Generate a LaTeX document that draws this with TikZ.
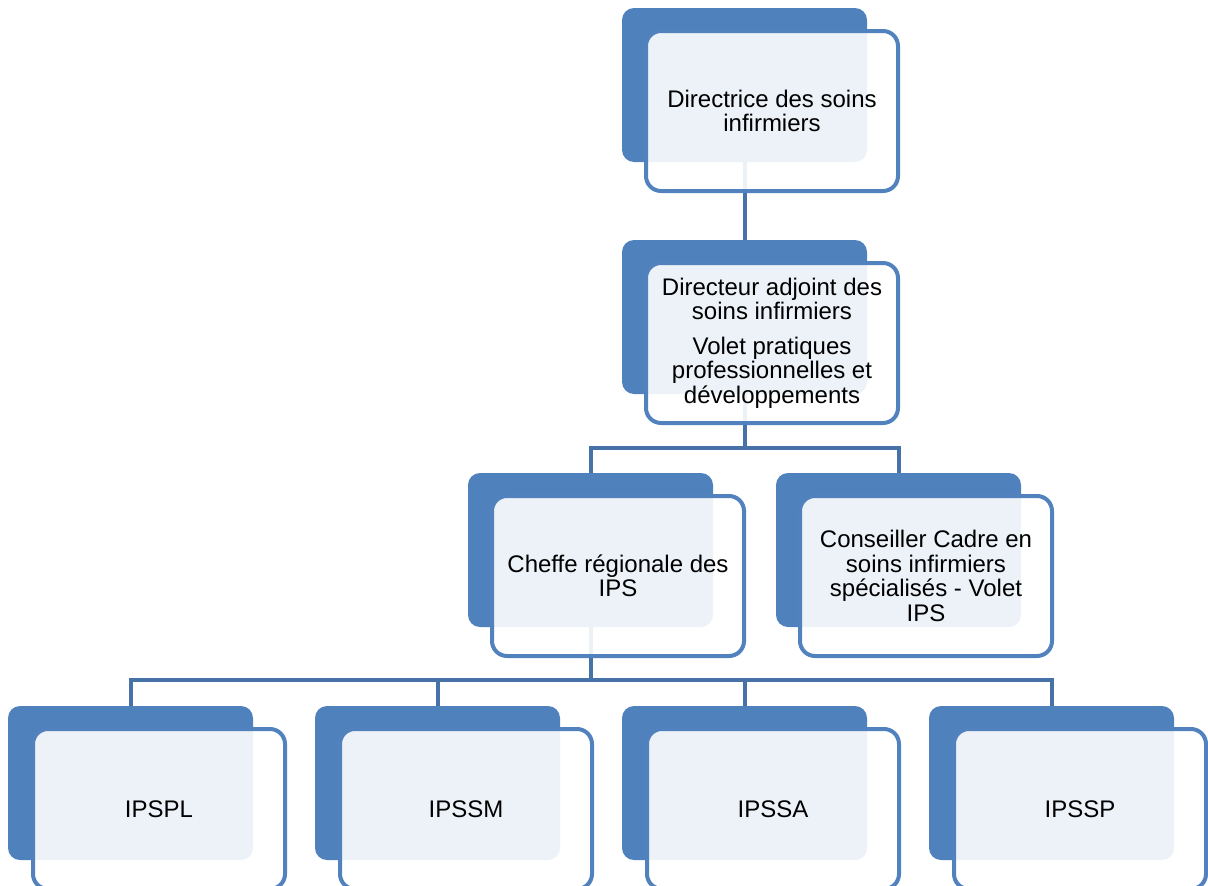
\documentclass[tikz,border=0pt]{standalone}
\usepackage{fontspec}
\setmainfont{Liberation Sans}
\definecolor{boxblue}{HTML}{4F81BD}
\definecolor{edgeblue}{HTML}{5282BE}
\definecolor{linkblue}{HTML}{4672A8}
\tikzset{
  backbox/.style={rectangle, rounded corners=12pt, fill=boxblue, draw=none,
    minimum width=245pt, minimum height=154pt, inner sep=0pt},
  frontbox/.style={rectangle, rounded corners=15pt, draw=edgeblue, line width=4pt,
    fill=white, fill opacity=0.9, text opacity=1,
    minimum width=252pt, minimum height=160pt, inner sep=0pt, align=center,
    font=\fontsize{24}{24.5}\selectfont},
  link/.style={draw=linkblue, line width=4pt},
}
\begin{document}
\begin{tikzpicture}[x=1pt, y=-1pt]
\useasboundingbox (0,0) rectangle (1208,886);

% back panels
\node[backbox] (b1) at (744.5,85) {};
\node[backbox] (b2) at (744.5,317) {};
\node[backbox] (b3) at (590.5,550) {};
\node[backbox] (b4) at (898.5,550) {};
\node[backbox] (b5) at (130.5,783) {};
\node[backbox] (b6) at (437.5,783) {};
\node[backbox] (b7) at (744.5,783) {};
\node[backbox] (b8) at (1051.5,783) {};

% connectors
\coordinate (j2) at (744.5,448);
\coordinate (j3) at (590.5,680);
\draw[link] (b1.south) -- (b2.north);
\draw[link] (b2.south) -- (j2);
\draw[link] (j2) -| (b3.north);
\draw[link] (j2) -| (b4.north);
\draw[link] (b3.south) -- (j3);
\draw[link] (j3) -| (b5.north);
\draw[link] (j3) -| (b6.north);
\draw[link] (j3) -| (b7.north);
\draw[link] (j3) -| (b8.north);

% front panels with labels
\node[frontbox] (f1) at (772,111) {Directrice des soins\\infirmiers};
\node[frontbox] (f2) at (772,343) {Directeur adjoint des\\soins infirmiers\\[10pt]Volet pratiques\\professionnelles et\\développements};
\node[frontbox] (f3) at (618,576) {Cheffe régionale des\\IPS};
\node[frontbox] (f4) at (926,576) {Conseiller Cadre en\\soins infirmiers\\spécialisés - Volet\\IPS};
\node[frontbox] (f5) at (159,809) {IPSPL};
\node[frontbox] (f6) at (466,809) {IPSSM};
\node[frontbox] (f7) at (773,809) {IPSSA};
\node[frontbox] (f8) at (1080,809) {IPSSP};
\end{tikzpicture}
\end{document}
